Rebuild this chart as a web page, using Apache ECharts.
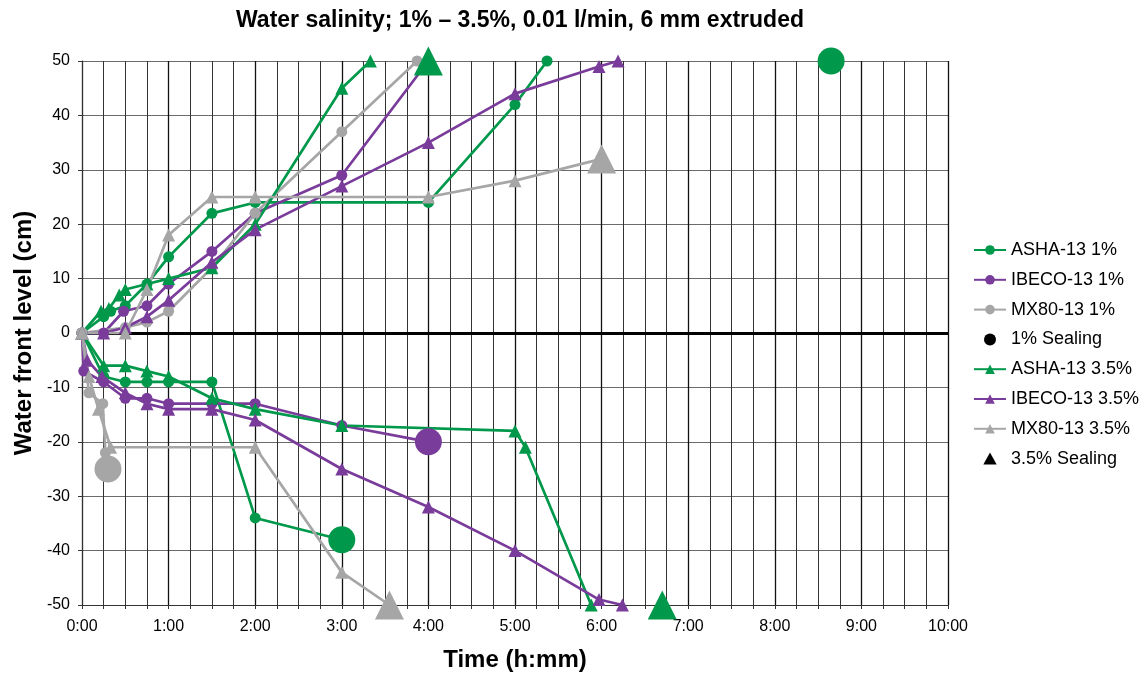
<!DOCTYPE html>
<html>
<head>
<meta charset="utf-8">
<script src="https://cdn.jsdelivr.net/npm/echarts@6/dist/echarts.min.js"></script>
<style>
html,body{margin:0;padding:0;background:#fff;}
#chart{width:1146px;height:673px;}
</style>
</head>
<body>
<div id="chart"></div>
<script>
// Time in hours, level in cm
const xTickLabels = ['0:00','1:00','2:00','3:00','4:00','5:00','6:00','7:00','8:00','9:00','10:00'];
const yTicks = [-50,-40,-30,-20,-10,0,10,20,30,40,50];

const ashaUp1   = [[0,0],[0.25,3],[0.33,4],[0.5,5],[0.75,9],[1,14],[1.5,22],[2,24],[4,24],[5,42],[5.37,50]];
const ashaLow1  = [[0,0],[0.25,-8],[0.5,-9],[0.75,-9],[1,-9],[1.5,-9],[2,-34],[3,-38]];
const ibecoUp1  = [[0,0],[0.25,0],[0.48,4],[0.75,5],[1,9],[1.5,15],[2,22],[3,29],[4,50]];
const ibecoLow1 = [[0,0],[0.02,-7],[0.25,-9],[0.5,-12],[0.75,-12],[1,-13],[1.5,-13],[2,-13],[3,-17],[4,-20]];
const mxUp1     = [[0,0],[0.5,1],[0.75,2],[1,4],[1.5,12],[2,22],[3,37],[3.87,50]];
const mxLow1    = [[0,0],[0.08,-11],[0.24,-13],[0.27,-22],[0.3,-25]];

const ashaUp35   = [[0,0],[0.22,4],[0.31,4.5],[0.43,7],[0.5,8],[0.75,9],[1,10],[1.5,12],[2,20],[3,45],[3.33,50]];
const ashaLow35  = [[0,0],[0.25,-6],[0.5,-6],[0.75,-7],[1,-8],[1.5,-12],[2,-14],[3,-17],[5,-18],[5.12,-21],[5.88,-50]];
const ibecoUp35  = [[0,0],[0.25,0],[0.5,1],[0.75,3],[1,6],[1.5,13],[2,19],[3,27],[4,35],[5,44],[5.97,49],[6.19,50]];
const ibecoLow35 = [[0,0],[0.06,-5],[0.23,-8],[0.5,-11],[0.75,-13],[1,-14],[1.5,-14],[2,-16],[3,-25],[4,-32],[5,-40],[5.97,-49],[6.24,-50]];
const mxUp35     = [[0,0],[0.5,0],[0.75,8],[1,18],[1.5,25],[2,25],[4,25],[5,28],[6,32]];
const mxLow35    = [[0,0],[0.08,-8],[0.19,-14],[0.33,-21],[2,-21],[3,-44],[3.55,-50]];

const sealing1  = [[8.65,50,'ASHA'],[4.0,-20,'IBECO'],[0.3,-25,'MX80'],[3.0,-38,'ASHA']];
const sealing35 = [[4.0,50,'ASHA'],[6.0,32,'MX80'],[3.55,-50,'MX80'],[6.7,-50,'ASHA']];

const legendNames = ['ASHA-13 1%','IBECO-13 1%','MX80-13 1%','1% Sealing','ASHA-13 3.5%','IBECO-13 3.5%','MX80-13 3.5%','3.5% Sealing'];

const colors = {ASHA:'#00984A', IBECO:'#7A3C9A', MX80:'#A6A6A6'};
const FONT = "'Liberation Sans', Arial, sans-serif";
const TRI_ICON = 'path://M5,0L10,9L0,9Z';

function lineSeries(name, data, color, symbol, withZero) {
  const s = {
    name: name, type: 'line', data: data,
    symbol: symbol, symbolSize: symbol === 'circle' ? 11 : 13,
    showSymbol: true,
    lineStyle: {color: color, width: 2.7},
    itemStyle: {color: color, opacity: 1},
    emphasis: {disabled: true},
    animation: false, z: 3
  };
  if (withZero) {
    s.markLine = {
      silent: true, symbol: ['none','none'], label: {show: false},
      lineStyle: {color: '#000', width: 3, type: 'solid'},
      data: [{yAxis: 0}], z: 1, animation: false
    };
  }
  return s;
}
function sealSeries(name, data, symbol) {
  return {
    name: name, type: 'scatter', symbol: symbol, symbolSize: symbol === 'circle' ? 27 : 29,
    symbolKeepAspect: true,
    itemStyle: {color: '#000', opacity: 1},
    data: data.map(d => ({value: [d[0], d[1]], itemStyle: {color: colors[d[2]], opacity: 1}})),
    emphasis: {disabled: true}, animation: false, z: 5
  };
}

const chart = echarts.init(document.getElementById('chart'), null, {renderer: 'canvas'});
chart.setOption({
  backgroundColor: '#fff',
  animation: false,
  textStyle: {fontFamily: FONT},
  title: {
    text: 'Water salinity; 1% \u2013 3.5%, 0.01 l/min, 6 mm extruded',
    left: 515, top: 4, textAlign: 'center',
    textStyle: {fontFamily: FONT, fontWeight: 'bold', fontSize: 23, color: '#000'}
  },
  grid: {left: 82, right: 198, top: 61, bottom: 68, containLabel: false, outerBoundsMode: 'none'},
  legend: {
    orient: 'vertical', left: 968, top: 236,
    itemWidth: 32, itemHeight: 12, itemGap: 11.8,
    symbolKeepAspect: true,
    textStyle: {fontFamily: FONT, fontSize: 18, color: '#000'},
    data: legendNames.map(n => n === '3.5% Sealing' ? {name: n, icon: TRI_ICON} : (n === '1% Sealing' ? {name: n, icon: 'circle'} : n))
  },
  xAxis: {
    type: 'value', min: 0, max: 10, interval: 1,
    name: 'Time (h:mm)', nameLocation: 'middle', nameGap: 43,
    nameTextStyle: {fontFamily: FONT, fontWeight: 'bold', fontSize: 24, color: '#000'},
    axisLine: {onZero: false, show: true, lineStyle: {color: '#333', width: 1}},
    axisTick: {show: true, length: 4, lineStyle: {color: '#333'}},
    minorTick: {show: true, splitNumber: 4, length: 4, lineStyle: {color: '#333'}},
    axisLabel: {fontFamily: FONT, fontSize: 16, color: '#000', margin: 14,
      formatter: v => xTickLabels[Math.round(v)]},
    splitLine: {show: true, lineStyle: {color: '#111', width: 1.3}},
    minorSplitLine: {show: true, lineStyle: {color: '#333', width: 1}}
  },
  yAxis: {
    type: 'value', min: -50, max: 50, interval: 10,
    name: 'Water front level (cm)', nameLocation: 'middle', nameGap: 46,
    nameTextStyle: {fontFamily: FONT, fontWeight: 'bold', fontSize: 24, color: '#000'},
    axisLine: {show: true, lineStyle: {color: '#333', width: 1}},
    axisTick: {show: true, length: 4, lineStyle: {color: '#333'}},
    axisLabel: {fontFamily: FONT, fontSize: 16, color: '#000', margin: 12,
      formatter: v => String(yTicks[yTicks.indexOf(v)])},
    splitLine: {show: true, lineStyle: {color: '#6a6a6a', width: 1.2}}
  },
  series: [
    lineSeries('ASHA-13 1%', ashaUp1, colors.ASHA, 'circle', true),
    lineSeries('ASHA-13 1%', ashaLow1, colors.ASHA, 'circle'),
    lineSeries('IBECO-13 1%', ibecoUp1, colors.IBECO, 'circle'),
    lineSeries('IBECO-13 1%', ibecoLow1, colors.IBECO, 'circle'),
    lineSeries('MX80-13 1%', mxUp1, colors.MX80, 'circle'),
    lineSeries('MX80-13 1%', mxLow1, colors.MX80, 'circle'),
    lineSeries('ASHA-13 3.5%', ashaUp35, colors.ASHA, 'triangle'),
    lineSeries('ASHA-13 3.5%', ashaLow35, colors.ASHA, 'triangle'),
    lineSeries('IBECO-13 3.5%', ibecoUp35, colors.IBECO, 'triangle'),
    lineSeries('IBECO-13 3.5%', ibecoLow35, colors.IBECO, 'triangle'),
    lineSeries('MX80-13 3.5%', mxUp35, colors.MX80, 'triangle'),
    lineSeries('MX80-13 3.5%', mxLow35, colors.MX80, 'triangle'),
    sealSeries('1% Sealing', sealing1, 'circle'),
    sealSeries('3.5% Sealing', sealing35, 'triangle')
  ]
});
</script>
</body>
</html>
